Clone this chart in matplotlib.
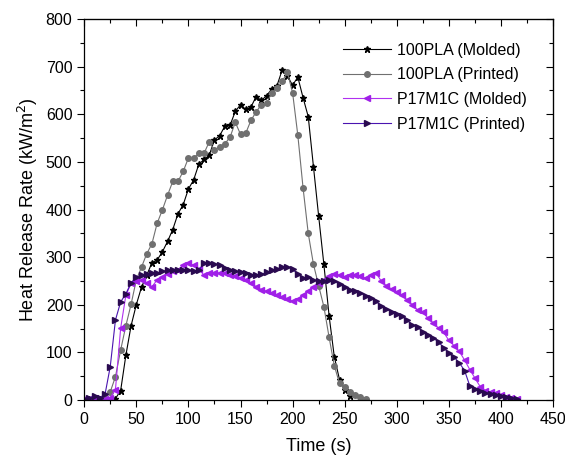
import numpy as np
import matplotlib.pyplot as plt
from matplotlib.ticker import MultipleLocator

plt.rcParams['font.family'] = ['Liberation Sans', 'DejaVu Sans']

# czasy probkowania (s)
t_pla_m = np.arange(0, 256, 5)
t_pla_p = np.arange(0, 271, 5)
t_p17 = np.arange(0, 416, 5)

# 100PLA (Molded)
hrr_pla_m = [0, 2, 4, 3, 1, 0, 3, 20, 94, 156, 200, 237, 262, 288, 294, 311, 333,
             358, 391, 410, 443, 462, 495, 505, 514, 546, 555, 575, 577, 606, 620,
             610, 615, 637, 629, 639, 653, 660, 693, 680, 661, 678, 635, 595, 490,
             386, 285, 177, 91, 43, 22, 8]

# 100PLA (Printed)
hrr_pla_p = [0, 1, 2, 1, 3, 17, 49, 105, 156, 201, 252, 279, 307, 328, 371, 399,
             430, 459, 459, 480, 508, 508, 518, 518, 542, 525, 532, 538, 552, 583,
             558, 560, 587, 605, 620, 623, 645, 655, 669, 688, 645, 556, 446, 350,
             285, 240, 196, 132, 72, 35, 28, 17, 10, 6, 3]

# P17M1C (Molded)
hrr_p17_m = [2, 3, 4, 3, 2, 5, 22, 151, 220, 245, 249, 252, 246, 238, 252, 259,
             265, 270, 273, 283, 287, 283, 275, 262, 266, 267, 266, 266, 262, 260,
             257, 252, 245, 238, 232, 228, 224, 221, 216, 213, 207, 212, 220, 229,
             238, 246, 252, 260, 265, 262, 259, 262, 262, 260, 256, 262, 267, 250,
             240, 233, 226, 220, 210, 200, 189, 184, 172, 162, 151, 142, 125, 114,
             102, 84, 64, 46, 28, 20, 16, 14, 10, 7, 5, 3]

# P17M1C (Printed)
hrr_p17_p = [3, 5, 8, 5, 12, 70, 168, 206, 223, 246, 258, 262, 264, 266, 266, 270,
             272, 273, 274, 274, 273, 270, 272, 288, 287, 286, 283, 277, 274, 270,
             268, 266, 262, 263, 264, 268, 272, 275, 280, 280, 275, 264, 257, 258,
             252, 250, 250, 253, 250, 243, 238, 231, 229, 225, 219, 215, 207, 198,
             191, 185, 180, 176, 167, 158, 153, 143, 136, 130, 122, 110, 98, 90, 78,
             62, 30, 24, 19, 15, 12, 10, 8, 6, 5, 3]

fig = plt.figure(figsize=(5.65, 4.63), dpi=100)
ax = fig.add_axes([0.149, 0.136, 0.83, 0.823])

ax.plot(t_pla_m, hrr_pla_m, color='black', lw=0.8, marker='*', ms=5,
        label='100PLA (Molded)')
ax.plot(t_pla_p, hrr_pla_p, color='#707070', lw=0.8, marker='o', ms=4,
        label='100PLA (Printed)')
ax.plot(t_p17, hrr_p17_m, color='#b030f0', lw=0.8, marker='<', ms=4.5,
        mfc='#a020e8', mec='#a020e8', label='P17M1C (Molded)')
ax.plot(t_p17, hrr_p17_p, color='#4a14b0', lw=0.8, marker='>', ms=4.5,
        mfc='#2a0a50', mec='#2a0a50', label='P17M1C (Printed)')

ax.set_xlim(0, 450)
ax.set_ylim(0, 800)
ax.xaxis.set_major_locator(MultipleLocator(50))
ax.xaxis.set_minor_locator(MultipleLocator(25))
ax.yaxis.set_major_locator(MultipleLocator(100))
ax.yaxis.set_minor_locator(MultipleLocator(50))
ax.tick_params(which='both', direction='out', labelsize=11.5, width=0.8)
ax.tick_params(which='major', length=5)
ax.tick_params(which='minor', length=3)

# ticki na gorze i po prawej (do srodka)
sx = ax.secondary_xaxis('top')
sx.xaxis.set_major_locator(MultipleLocator(50))
sx.xaxis.set_minor_locator(MultipleLocator(25))
sx.tick_params(which='both', direction='in', labeltop=False, width=0.8)
sx.tick_params(which='major', length=5)
sx.tick_params(which='minor', length=3)
sy = ax.secondary_yaxis('right')
sy.yaxis.set_major_locator(MultipleLocator(100))
sy.yaxis.set_minor_locator(MultipleLocator(50))
sy.tick_params(which='both', direction='in', labelright=False, width=0.8)
sy.tick_params(which='major', length=5)
sy.tick_params(which='minor', length=3)

for s in ax.spines.values():
    s.set_linewidth(0.9)

ax.set_xlabel('Time (s)', fontsize=13, labelpad=8)
ax.set_ylabel('Heat Release Rate (kW/m$^2$)', fontsize=13)

ax.legend(loc='upper right', frameon=False, fontsize=11.5, handlelength=3,
          handletextpad=0.4, labelspacing=0.6, bbox_to_anchor=(0.975, 0.975))

fig.savefig('out.png', dpi=100)
